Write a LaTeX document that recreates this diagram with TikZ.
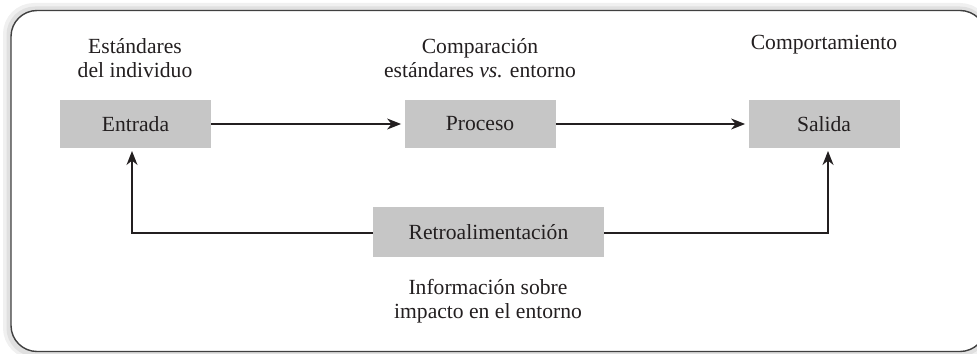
\documentclass[tikz,border=0pt]{standalone}
\usepackage{fontspec}
\setmainfont{Liberation Serif}
\usetikzlibrary{arrows.meta}
\definecolor{boxgray}{HTML}{C6C6C6}
\definecolor{ink}{HTML}{231F20}
\tikzset{
  stage/.style={fill=boxgray, draw=none, minimum width=75.5pt, minimum height=24pt, inner sep=0pt, text=ink, font=\fontsize{10.8}{12}\selectfont},
  lbl/.style={align=center, text=ink, inner sep=0pt, font=\fontsize{10.8}{12}\selectfont},
  conn/.style={line width=0.7pt, draw=ink, -{Stealth[length=7pt,width=5.5pt,inset=2.2pt]}},
  frameline/.style={rounded corners=13pt}
}
\begin{document}
\begin{tikzpicture}[x=0.5pt,y=-0.5pt]
\useasboundingbox (0,0) rectangle (977,353);
% soft shadow of the frame
\draw[frameline, line width=5pt, black!6] (8,8) rectangle (986,354);
\draw[frameline, line width=2.5pt, black!12] (9,9) rectangle (986,354);
% frame
\draw[frameline, fill=white, draw=black!75, line width=0.7pt] (11,10.5) rectangle (986,351.5);
% boxes
\node[stage] (entrada) at (135.5,124) {Entrada};
\node[stage] (proceso) at (480,124) {Proceso};
\node[stage] (salida) at (824,124) {Salida};
\node[stage, minimum width=115.5pt, minimum height=25pt] (retro) at (488.5,232) {Retroalimentación};
% labels
\node[lbl] (lin) at (135,58) {Estándares\\del individuo};
\node[lbl] (lproc) at (480,58) {Comparación\\estándares \textit{vs.} entorno};
\node[lbl] (lsal) at (824,45) {Comportamiento};
\node[lbl] (lretro) at (488,301) {Información sobre\\impacto en el entorno};
% feedback corners
\coordinate (cl) at (132,233);
\coordinate (cr) at (828,233);
\coordinate (tl) at (132,151);
\coordinate (tr) at (828,151);
% connectors
\draw[conn, shorten >=1.5pt] (entrada.east) -- (proceso.west);
\draw[conn, shorten >=1.5pt] (proceso.east) -- (salida.west);
\draw[conn] (retro.west |- cl) -- (cl) -- (tl);
\draw[conn] (retro.east |- cr) -- (cr) -- (tr);
\end{tikzpicture}
\end{document}
